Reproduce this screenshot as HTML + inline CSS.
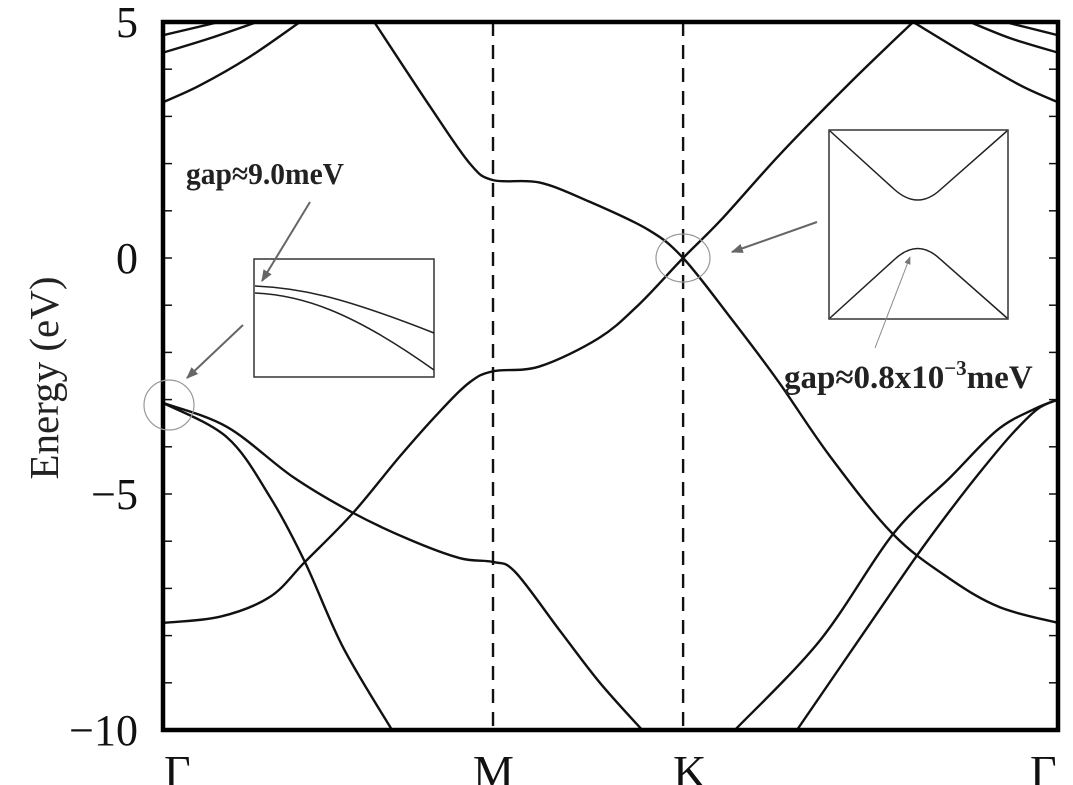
<!DOCTYPE html>
<html><head><meta charset="utf-8">
<style>
html,body{margin:0;padding:0;background:#fff;}
svg{display:block;font-family:"Liberation Serif",serif;}
</style></head>
<body>
<svg id="chart" width="1073" height="785" viewBox="0 0 1073 785" xmlns="http://www.w3.org/2000/svg">
<defs>
<marker id="ah" viewBox="0 0 10 10" refX="9" refY="5" markerWidth="6" markerHeight="6" orient="auto"><path d="M0,1 L10,5 L0,9 z" fill="#666"/></marker>
<marker id="ah2" viewBox="0 0 10 10" refX="9" refY="5" markerWidth="8" markerHeight="8" orient="auto"><path d="M0,1 L10,5 L0,9 z" fill="#777"/></marker>
</defs>
<g id="bands"></g>
<g id="axes"></g>

<g>
<rect x="254" y="259" width="180" height="118" fill="#fff" stroke="#333" stroke-width="1.5"/>
<path d="M255,286 C300,288 340,296 434,333" fill="none" stroke="#222" stroke-width="1.5"/>
<path d="M255,293 C300,295 350,310 434,370" fill="none" stroke="#222" stroke-width="1.5"/>
</g>
<g>
<rect x="829" y="130" width="179" height="189" fill="#fff" stroke="#333" stroke-width="1.5"/>
<path d="M830,131 L895,190 Q918,210 940,190 L1007,131" fill="none" stroke="#222" stroke-width="1.5"/>
<path d="M830,318 L895,259 Q918,238 940,259 L1007,318" fill="none" stroke="#222" stroke-width="1.5"/>
</g>
<ellipse cx="169" cy="405" rx="25" ry="25" fill="none" stroke="#999" stroke-width="1.2"/>
<ellipse cx="683" cy="258" rx="27" ry="24" fill="none" stroke="#999" stroke-width="1.2"/>
<line x1="310" y1="202" x2="262" y2="281" stroke="#666" stroke-width="2" marker-end="url(#ah)"/>
<line x1="243" y1="325" x2="187" y2="378" stroke="#666" stroke-width="2" marker-end="url(#ah)"/>
<line x1="817" y1="222" x2="732" y2="252" stroke="#666" stroke-width="2" marker-end="url(#ah)"/>
<line x1="875" y1="348" x2="910" y2="257" stroke="#888" stroke-width="1" marker-end="url(#ah2)"/>
<text x="186" y="184" font-size="31" font-weight="bold" fill="#222" textLength="158" lengthAdjust="spacingAndGlyphs">gap≈9.0meV</text>
<text x="784" y="388" font-size="33" font-weight="bold" fill="#222">gap≈0.8x10<tspan dy="-13" font-size="21">−3</tspan><tspan dy="13">meV</tspan></text>
</svg>
<script>
const kPoints=[0,1,1.576,2.712];
const kLabels=["Γ","M","K","Γ"];
const yTicks=[5,0,-5,-10];
const yTickLabels=["5","0","−5","−10"];
const bandK=[
 [0.64,0.81,0.93,1.0,1.14,1.29,1.47,1.576,1.718,1.861,2.021,2.212,2.385,2.536,2.712],
 [0,0.173,0.324,0.430,0.576,0.718,0.839,0.930,1.0,1.14,1.32,1.44,1.576,1.69,1.87,2.08,2.273],
 [0,0.11,0.26,0.415],
 [0,0.14,0.285],
 [0,0.17],
 [2.712,2.60,2.45,2.273],
 [2.712,2.57,2.445],
 [2.712,2.552],
 [0,0.194,0.324,0.430,0.545,0.694],
 [0,0.194,0.394,0.576,0.748,0.9,1.0,1.067,1.203,1.324,1.452],
 [2.712,2.64,2.527,2.385,2.212,1.991,1.733],
 [2.712,2.65,2.57,2.48,2.385,2.285,2.142,1.921]
];
const bandE=[
 [5,3.2,2.0,1.65,1.6,1.2,0.6,0,-1.25,-2.58,-4.2,-5.85,-6.8,-7.4,-7.73],
 [-7.73,-7.6,-7.18,-6.44,-5.4,-4.2,-3.25,-2.63,-2.4,-2.3,-1.7,-1.0,0,0.8,2.2,3.7,5],
 [3.3,3.65,4.25,5],
 [4.35,4.65,5],
 [4.72,5],
 [3.3,3.65,4.25,5],
 [4.35,4.65,5],
 [4.72,5],
 [-3.07,-3.8,-5.06,-6.44,-8.24,-10],
 [-3.07,-3.58,-4.64,-5.4,-5.97,-6.36,-6.44,-6.65,-7.9,-9.0,-10],
 [-3.0,-3.2,-3.65,-4.65,-5.85,-8.1,-10],
 [-3.0,-3.2,-3.75,-4.5,-5.35,-6.3,-7.75,-10]
];
const X0=163,X1=1058,Y0=22,Y1=730,KMAX=2.712,EMAX=5,EMIN=-10;
const xs=k=>X0+(k/KMAX)*(X1-X0);
const ys=e=>Y0+(EMAX-e)/(EMAX-EMIN)*(Y1-Y0);
const NS="http://www.w3.org/2000/svg";
const bands=document.getElementById('bands');
function mk(t,a,p){const el=document.createElementNS(NS,t);for(const k in a)el.setAttribute(k,a[k]);p.appendChild(el);return el;}
const cp=mk('clipPath',{id:'plotclip'},document.querySelector('defs'));
mk('rect',{x:X0,y:Y0,width:X1-X0,height:Y1-Y0},cp);
bands.setAttribute('clip-path','url(#plotclip)');
function smoothPath(pts){
 let d="M"+pts[0][0]+","+pts[0][1];
 for(let i=0;i<pts.length-1;i++){
  const p0=pts[i-1]||pts[i],p1=pts[i],p2=pts[i+1],p3=pts[i+2]||p2;
  const c1=[p1[0]+(p2[0]-p0[0])/6,p1[1]+(p2[1]-p0[1])/6];
  const c2=[p2[0]-(p3[0]-p1[0])/6,p2[1]-(p3[1]-p1[1])/6];
  d+=" C"+c1[0]+","+c1[1]+" "+c2[0]+","+c2[1]+" "+p2[0]+","+p2[1];
 }
 return d;
}
bandK.forEach((ks,i)=>{
 const pts=ks.map((k,j)=>[xs(k),ys(bandE[i][j])]);
 const p=mk('path',{d:smoothPath(pts),fill:'none',stroke:'#111','stroke-width':2.4},bands);
 
 
});
const axes=document.getElementById('axes');
[1,2].forEach(i=>{
 const l=mk('line',{x1:xs(kPoints[i]),x2:xs(kPoints[i]),y1:Y0,y2:Y1,stroke:'#111','stroke-width':2.4,'stroke-dasharray':'14,9'},axes);
 
 
});
for(let e=EMIN+1;e<EMAX;e++){
 const t1=mk('line',{x1:X0,x2:X0+9,y1:ys(e),y2:ys(e),stroke:'#111','stroke-width':1.5},axes);
 
 
 const t2=mk('line',{x1:X1-9,x2:X1,y1:ys(e),y2:ys(e),stroke:'#111','stroke-width':1.5},axes);
 
 
}
const fr=mk('rect',{x:X0,y:Y0,width:X1-X0,height:Y1-Y0,fill:'none',stroke:'#000','stroke-width':4.5},axes);


yTicks.forEach((e,i)=>{
 const t=mk('text',{x:X0-25,y:ys(e)+15,'font-size':44,'text-anchor':'end',fill:'#111'},axes);
 t.textContent=yTickLabels[i];
 
 
});
kPoints.forEach((k,i)=>{
 const t=mk('text',{x:xs(k)+(i===0?1:(i===3?-28:(i===1?-20:-10))),y:787,'font-size':46,fill:'#111'},axes);
 t.textContent=kLabels[i];
 
 
});
const yl=mk('text',{x:0,y:0,'font-size':41,'text-anchor':'middle',fill:'#222',transform:'translate(58,378) rotate(-90)'},axes);
yl.textContent='Energy (eV)';


</script>
</body></html>
